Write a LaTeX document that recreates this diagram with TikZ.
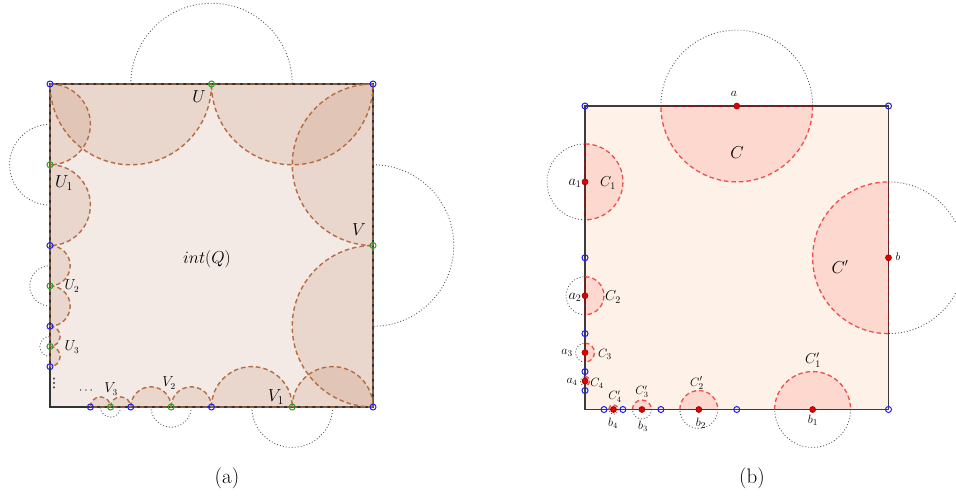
\documentclass[tikz,border=0pt]{standalone}
\usepackage{fontspec}
\newfontfamily\dvsans{DejaVu Sans}
\definecolor{lintc}{RGB}{243,233,229}
\definecolor{brf}{RGB}{184,117,79}
\definecolor{brd}{RGB}{182,108,68}
\definecolor{rintc}{RGB}{254,241,231}
\definecolor{rfillc}{RGB}{252,216,206}
\definecolor{rdashc}{RGB}{238,78,78}
\definecolor{rdiamc}{RGB}{125,25,25}
\definecolor{ptblue}{RGB}{30,30,230}
\definecolor{ptgreen}{RGB}{40,160,40}
\definecolor{ptred}{RGB}{225,0,0}
\definecolor{dotg}{RGB}{85,85,85}
\definecolor{edgec}{RGB}{60,60,60}
\newcommand\halfdisk[4]{(#1,#2) ++(#4:#3) arc[start angle=#4, delta angle=180, radius=#3] -- cycle}
\newcommand\halfarc[4]{(#1,#2) ++(#4:#3) arc[start angle=#4, delta angle=180, radius=#3]}
\newcommand\diamline[4]{(#1,#2) ++(#4:#3) -- ++({#4+180}:{2*#3})}
\begin{document}
\begin{tikzpicture}[x=1pt,y=-1pt,
  hfill/.style={fill=brf, fill opacity=0.16},
  hdash/.style={draw=brd, line width=1.4pt, dash pattern=on 4.5pt off 3pt},
  rfill/.style={fill=rfillc},
  rdash/.style={draw=rdashc, line width=1.3pt, dash pattern=on 4.5pt off 3pt},
  rdiam/.style={draw=rdiamc, line width=1.2pt, dash pattern=on 4.5pt off 3pt},
  dotline/.style={draw=dotg, line width=0.9pt, dash pattern=on 0.9pt off 2.1pt},
  ledge/.style={draw=black!80, line width=1.6pt},
  redge/.style={draw=edgec, line width=1.4pt},
  bpt/.style={circle, draw=ptblue, line width=1pt, inner sep=0pt, minimum size=6pt},
  gpt/.style={circle, draw=ptgreen, line width=1pt, inner sep=0pt, minimum size=6pt},
  rpt/.style={circle, fill=ptred, draw=ptred!70!black, line width=0.6pt, inner sep=0pt, minimum size=6pt},
  lab/.style={inner sep=0pt, font=\fontsize{#1}{#1}\selectfont},
  subcap/.style={inner sep=0pt, font=\fontsize{21}{24}\selectfont}
]
\useasboundingbox (0,0) rectangle (956,499);

% ================= panel (a) =================
\fill[lintc] (50,84) rectangle (373,407);
% half-disk fills
\fill[hfill] \halfdisk{130.75}{84}{80.75}{0};
\fill[hfill] \halfdisk{292.25}{84}{80.75}{0};
\fill[hfill] \halfdisk{373}{164.75}{80.75}{90};
\fill[hfill] \halfdisk{373}{326.25}{80.75}{90};
\fill[hfill] \halfdisk{50}{124.375}{40.375}{270};
\fill[hfill] \halfdisk{50}{205.125}{40.375}{270};
\fill[hfill] \halfdisk{50}{265.69}{20.19}{270};
\fill[hfill] \halfdisk{50}{306.06}{20.19}{270};
\fill[hfill] \halfdisk{50}{336.34}{10.09}{270};
\fill[hfill] \halfdisk{50}{356.53}{10.09}{270};
\fill[hfill] \halfdisk{251.875}{407}{40.375}{180};
\fill[hfill] \halfdisk{332.625}{407}{40.375}{180};
\fill[hfill] \halfdisk{150.94}{407}{20.19}{180};
\fill[hfill] \halfdisk{191.31}{407}{20.19}{180};
\fill[hfill] \halfdisk{100.47}{407}{10.09}{180};
\fill[hfill] \halfdisk{120.66}{407}{10.09}{180};
% outer dotted halves
\draw[dotline] \halfarc{211.5}{84}{80.75}{180};
\draw[dotline] \halfarc{373}{245.5}{80.75}{270};
\draw[dotline] \halfarc{50}{164.75}{40.375}{90};
\draw[dotline] \halfarc{50}{285.875}{20.19}{90};
\draw[dotline] \halfarc{50}{346.44}{10.09}{90};
\draw[dotline] \halfarc{292.25}{407}{40.375}{0};
\draw[dotline] \halfarc{171.125}{407}{20.19}{0};
\draw[dotline] \halfarc{110.56}{407}{10.09}{0};
% border
\draw[ledge] (50,84) rectangle (373,407);
% dashed outlines
\draw[hdash] \halfdisk{130.75}{84}{80.75}{0};
\draw[hdash] \halfdisk{292.25}{84}{80.75}{0};
\draw[hdash] \halfdisk{373}{164.75}{80.75}{90};
\draw[hdash] \halfdisk{373}{326.25}{80.75}{90};
\draw[hdash] \halfdisk{50}{124.375}{40.375}{270};
\draw[hdash] \halfdisk{50}{205.125}{40.375}{270};
\draw[hdash] \halfdisk{50}{265.69}{20.19}{270};
\draw[hdash] \halfdisk{50}{306.06}{20.19}{270};
\draw[hdash] \halfdisk{50}{336.34}{10.09}{270};
\draw[hdash] \halfdisk{50}{356.53}{10.09}{270};
\draw[hdash] \halfdisk{251.875}{407}{40.375}{180};
\draw[hdash] \halfdisk{332.625}{407}{40.375}{180};
\draw[hdash] \halfdisk{150.94}{407}{20.19}{180};
\draw[hdash] \halfdisk{191.31}{407}{20.19}{180};
\draw[hdash] \halfdisk{100.47}{407}{10.09}{180};
\draw[hdash] \halfdisk{120.66}{407}{10.09}{180};
% points
\node[bpt] (aTL) at (50,84) {};
\node[bpt] (aTR) at (373,84) {};
\node[bpt] (aBR) at (373,407) {};
\node[bpt] (aL1) at (50,245.5) {};
\node[bpt] (aL2) at (50,326.25) {};
\node[bpt] (aL3) at (50,366.63) {};
\node[bpt] (aB1) at (211.5,407) {};
\node[bpt] (aB2) at (130.75,407) {};
\node[bpt] (aB3) at (90.375,407) {};
\node[gpt] (pU) at (211.5,84) {};
\node[gpt] (pV) at (373,245.5) {};
\node[gpt] (pU1) at (50,164.75) {};
\node[gpt] (pU2) at (50,285.875) {};
\node[gpt] (pU3) at (50,346.44) {};
\node[gpt] (pV1) at (292.25,407) {};
\node[gpt] (pV2) at (171.125,407) {};
\node[gpt] (pV3) at (110.56,407) {};
% labels
\node[lab=17] (tU) at (199,97) {$U$};
\node[lab=17] (tU1) at (64,183) {$U_1$};
\node[lab=17] (tV) at (359,230) {$V$};
\node[lab=18] (tQ) at (207,259) {$int(Q)$};
\node[lab=17] (tV1) at (276,397) {$V_1$};
\node[lab=13.5] (tU2) at (72,286) {$U_2$};
\node[lab=13.5] (tU3) at (72,347) {$U_3$};
\node[lab=13.5] (tV2) at (169,383) {$V_2$};
\node[lab=13.5] (tV3) at (111,389) {$V_3$};
\node[lab=13, font=\fontsize{13}{13}\dvsans] (tvd) at (54,383) {⋮};
\node[lab=13] (tcd) at (86,391) {$\cdots$};
\node[subcap] (capa) at (227,478) {(a)};

% ================= panel (b) =================
\fill[rintc] (585,106) rectangle (888.5,409.5);
% red half-disks
\fill[rfill] \halfdisk{736.75}{106}{75.875}{0};
\fill[rfill] \halfdisk{888.5}{257.75}{75.875}{90};
\fill[rfill] \halfdisk{585}{181.875}{37.94}{270};
\fill[rfill] \halfdisk{585}{295.69}{18.97}{270};
\fill[rfill] \halfdisk{585}{352.59}{9.48}{270};
\fill[rfill] \halfdisk{585}{381.05}{4.74}{270};
\fill[rfill] \halfdisk{812.625}{409.5}{37.94}{180};
\fill[rfill] \halfdisk{698.81}{409.5}{18.97}{180};
\fill[rfill] \halfdisk{641.91}{409.5}{9.48}{180};
\fill[rfill] \halfdisk{613.45}{409.5}{4.74}{180};
% outer dotted halves
\draw[dotline] \halfarc{736.75}{106}{75.875}{180};
\draw[dotline] \halfarc{888.5}{257.75}{75.875}{270};
\draw[dotline] \halfarc{585}{181.875}{37.94}{90};
\draw[dotline] \halfarc{585}{295.69}{18.97}{90};
\draw[dotline] \halfarc{585}{352.59}{9.48}{90};
\draw[dotline] \halfarc{585}{381.05}{4.74}{90};
\draw[dotline] \halfarc{812.625}{409.5}{37.94}{0};
\draw[dotline] \halfarc{698.81}{409.5}{18.97}{0};
\draw[dotline] \halfarc{641.91}{409.5}{9.48}{0};
\draw[dotline] \halfarc{613.45}{409.5}{4.74}{0};
% border
\draw[redge] (585,106) rectangle (888.5,409.5);
% dashed arcs and diameters
\draw[rdash] \halfarc{736.75}{106}{75.875}{0};
\draw[rdash] \halfarc{888.5}{257.75}{75.875}{90};
\draw[rdash] \halfarc{585}{181.875}{37.94}{270};
\draw[rdash] \halfarc{585}{295.69}{18.97}{270};
\draw[rdash] \halfarc{585}{352.59}{9.48}{270};
\draw[rdash] \halfarc{585}{381.05}{4.74}{270};
\draw[rdash] \halfarc{812.625}{409.5}{37.94}{180};
\draw[rdash] \halfarc{698.81}{409.5}{18.97}{180};
\draw[rdash] \halfarc{641.91}{409.5}{9.48}{180};
\draw[rdash] \halfarc{613.45}{409.5}{4.74}{180};
\draw[rdiam] \diamline{736.75}{106}{75.875}{0};
\draw[rdiam] \diamline{888.5}{257.75}{75.875}{90};
\draw[rdiam] \diamline{585}{181.875}{37.94}{270};
\draw[rdiam] \diamline{585}{295.69}{18.97}{270};
\draw[rdiam] \diamline{585}{352.59}{9.48}{270};
\draw[rdiam] \diamline{812.625}{409.5}{37.94}{180};
\draw[rdiam] \diamline{698.81}{409.5}{18.97}{180};
\draw[rdiam] \diamline{641.91}{409.5}{9.48}{180};
% blue points
\node[bpt] (bTL) at (585,106) {};
\node[bpt] (bTR) at (888.5,106) {};
\node[bpt] (bBR) at (888.5,409.5) {};
\node[bpt] (bL1) at (585,257.75) {};
\node[bpt] (bL2) at (585,333.6) {};
\node[bpt] (bL3) at (585,371.6) {};
\node[bpt] (bL4) at (585,390.5) {};
\node[bpt] (bB1) at (736.75,409.5) {};
\node[bpt] (bB2) at (660.9,409.5) {};
\node[bpt] (bB3) at (622.9,409.5) {};
\node[bpt] (bB4) at (604,409.5) {};
% red points
\node[rpt] (qa) at (736.75,106) {};
\node[rpt] (qb) at (888.5,257.75) {};
\node[rpt] (qa1) at (585,181.875) {};
\node[rpt] (qa2) at (585,295.69) {};
\node[rpt] (qa3) at (585,352.59) {};
\node[rpt] (qa4) at (585,381.05) {};
\node[rpt] (qb1) at (812.625,409.5) {};
\node[rpt] (qb2) at (698.81,409.5) {};
\node[rpt] (qb3) at (641.91,409.5) {};
\node[rpt] (qb4) at (613.45,409.5) {};
% labels
\node[lab=12] (sa) at (734,94) {$a$};
\node[lab=17] (sC) at (737,153) {$C$};
\node[lab=14] (sa1) at (575,183) {$a_1$};
\node[lab=14] (sC1) at (608,183) {$C_1$};
\node[lab=14] (sa2) at (575,297) {$a_2$};
\node[lab=14] (sC2) at (613,297) {$C_2$};
\node[lab=13] (sa3) at (567,353) {$a_3$};
\node[lab=13] (sC3) at (605,354) {$C_3$};
\node[lab=12] (sa4) at (572,382) {$a_4$};
\node[lab=12] (sC4) at (597,383) {$C_4$};
\node[lab=12] (sC4p) at (615,397) {$C'_4$};
\node[lab=12] (sb4) at (613,423) {$b_4$};
\node[lab=12] (sC3p) at (642,392) {$C'_3$};
\node[lab=12] (sb3) at (643,426) {$b_3$};
\node[lab=13] (sC2p) at (697,383) {$C'_2$};
\node[lab=13] (sb2) at (701,423) {$b_2$};
\node[lab=14] (sC1p) at (813,360) {$C'_1$};
\node[lab=13] (sb1) at (813,420) {$b_1$};
\node[lab=16] (sCp) at (840,267) {$C'$};
\node[lab=11] (sb) at (898,257) {$b$};
\node[subcap] (capb) at (752,478) {(b)};
\end{tikzpicture}
\end{document}
